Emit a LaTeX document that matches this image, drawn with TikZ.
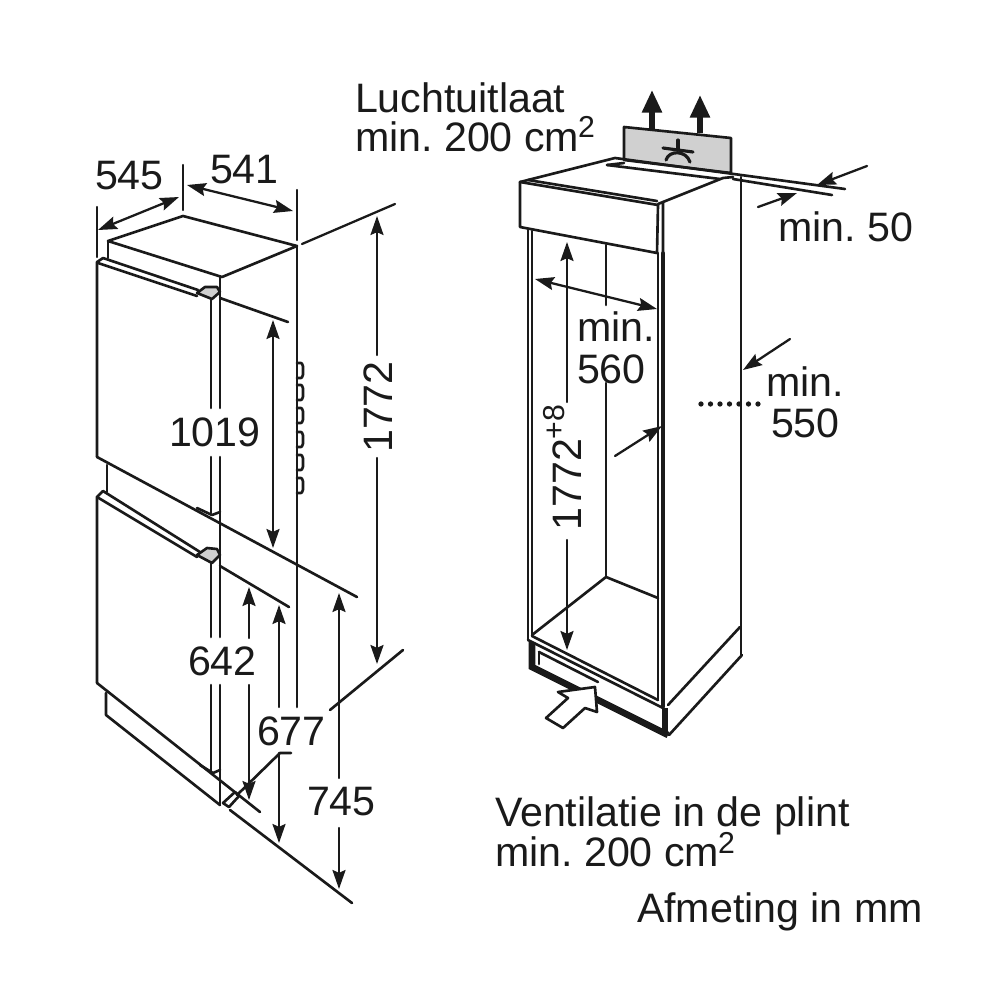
\documentclass[tikz,border=0pt]{standalone}
\usepackage{fontspec}
\setmainfont{Liberation Sans}
\usetikzlibrary{arrows.meta}
\definecolor{ink}{HTML}{1A1A1A}
\definecolor{panel}{HTML}{D0D0D0}
\newcommand{\supr}[2][3.7pt]{\kern-0.3pt\smash{\raisebox{#1}{\fontsize{8.6pt}{9pt}\selectfont #2}}}
\tikzset{
  ln/.style={draw=ink,line width=0.75pt,line cap=round,line join=round},
  dim/.style={ln,line width=0.65pt},
  arr/.style={dim,-{Stealth[length=5.4pt,width=3.7pt,inset=0.8pt]}},
  darr/.style={dim,{Stealth[length=5.4pt,width=3.7pt,inset=0.8pt]}-{Stealth[length=5.4pt,width=3.7pt,inset=0.8pt]}},
  thick ln/.style={draw=ink,line width=1.9pt,line join=miter},
  flow/.style={draw=ink,line width=1.5pt,-{Triangle[length=6.4pt,width=5.4pt]}},
  lab/.style={inner sep=0pt,outer sep=0pt,text=ink,font=\fontsize{11.7pt}{14pt}\selectfont\frenchspacing},
  lw/.style={lab,anchor=base west},
  lv/.style={lab,rotate=90,anchor=center},
}
\begin{document}
\begin{tikzpicture}[x=0.01cm,y=-0.01cm]
\useasboundingbox (0,0) rectangle (1000,1000);
% ---------- left appliance ----------
\draw[ln] (108,241) -- (183,216) -- (297,246) -- (222,277) -- cycle;
\draw[ln] (108,241) -- (108,258);
\draw[ln] (297,246) -- (297,707);
% door 1
\draw[ln] (103,258) -- (198,290);
\draw[ln] (103,258) -- (97,262) -- (97,457);
\draw[ln] (98,263) -- (197,296);
\draw[ln] (220,298) -- (288,322);
\draw[ln,fill=panel] (197,293) -- (205,287) -- (217,287) -- (220,292) -- (212,299) -- cycle;
\draw[ln] (211,300) -- (211,408) (211,457) -- (211,513);
\draw[ln] (220,277) -- (220,408) (220,457) -- (220,637) (220,685) -- (220,805);
\draw[ln] (97,457) -- (357,597);
\draw[ln] (197,508) -- (212,515) -- (220,512);
\draw[ln] (107,465) -- (107,492);
% door 2
\draw[ln] (103,491) -- (200,552);
\draw[ln] (103,491) -- (97,497) -- (97,683);
\draw[ln] (97,497) -- (197,557);
\draw[ln] (220,566) -- (289,607);
\draw[ln,fill=panel] (197,555) -- (207,548) -- (217,549) -- (220,555) -- (212,563) -- cycle;
\draw[ln] (211,563) -- (211,637) (211,685) -- (211,772);
\draw[ln] (97,683) -- (260,812);
\draw[ln] (200,765) -- (213,773) -- (220,770);
\draw[ln] (106,693) -- (106,715) -- (220,805);
\draw[ln] (230,810) -- (352,903);
% foot
\draw[ln] (223,803) -- (235,792) -- (239,796) -- (229,807) -- cycle;
\draw[ln] (237,795) -- (280,753) -- (291,753);
\draw[ln] (330,710) -- (403,650);
% knobs
\foreach \a/\b in {363/378,385/400,408/423,432/447,455/470,478/493}
  \draw[ln] (297,\a) -- (301,\a) to[out=0,in=-90] (303,\a+3) -- (303,\b-3) to[out=90,in=0] (301,\b) -- (297,\b);
% extension lines
\draw[dim] (97,207) -- (97,257);
\draw[dim] (183,165) -- (183,210);
\draw[dim] (297,190) -- (297,240);
\draw[dim] (302,244) -- (395,204);
% dimensions
\draw[darr] (98,230) -- (179,197);
\draw[darr] (187,185) -- (293,211);
\draw[arr] (377,355) -- (377,216);
\draw[arr] (377,458) -- (377,664);
\draw[darr] (273,320) -- (273,548);
\draw[arr] (249,638) -- (249,587);
\draw[arr] (249,685) -- (249,800);
\draw[arr] (279,707) -- (279,605);
\draw[arr] (279,753) -- (279,843);
\draw[arr] (339,778) -- (339,593);
\draw[arr] (339,828) -- (339,889);
% labels left
\node[lw] (l545) at (95,189) {545};
\node[lw] (l541) at (210,183) {541};
\node[lw] (l1019) at (169,446) {1019};
\node[lw] (l642) at (188,675) {642};
\node[lw] (l677) at (257,745) {677};
\node[lw] (l745) at (307,815) {745};
\node[lv] (l1772) at (378,407) {1772};
% ---------- right niche ----------
% air box
\draw[ln,fill=panel] (624,160) -- (624,127) -- (731,138) -- (731,173) -- cycle;
\draw[flow] (652,129) -- (652,90);
\draw[flow] (700,133) -- (700,95);
\draw[ln,line width=0.9pt] (663,148) -- (693,152);
\draw[ln,line width=0.9pt] (678,140) -- (678,150);
\draw[ln,line width=0.9pt] (666,160) .. controls (669,150) and (686,150) .. (690,162);
% top
\draw[ln] (520,182) -- (615,158) -- (845,189);
\draw[ln] (607,165) -- (624,163);
\draw[ln] (607,165) -- (720,179);
\draw[ln] (663,202) -- (723,178) -- (733,177);
\draw[ln] (733,179) -- (832,195);
\draw[ln] (520,182) -- (658,205);
\draw[ln] (528,180) -- (657,201);
\draw[ln] (520,182) -- (520,227) -- (657,253) -- (658,205);
\draw[ln] (658,204) -- (663,202) -- (663,253);
\draw[ln] (741,177) -- (741,655);
% walls
\draw[ln] (528,230) -- (528,640);
\draw[ln] (532,231) -- (532,636);
\draw[ln] (658,253) -- (658,700);
\draw[ln,line width=1pt] (663,253) -- (663,707);
\draw[ln] (606,245) -- (606,305) (606,383) -- (606,577);
\draw[ln] (532,635) -- (606,577) -- (658,598);
\draw[ln] (532,636) -- (658,700);
\draw[ln] (528,640) -- (663,708);
% plinth
\draw[ln] (740,627) -- (668,705);
\draw[ln] (742,655) -- (669,735);
\draw[thick ln] (532,642) -- (532,667) -- (668,735);
\draw[thick ln] (665,708) -- (665,734);
\draw[ln] (539,652) -- (539,664);
\draw[ln] (539,652) -- (598,682);
\draw[ln,fill=white] (546,718) -- (563,728) -- (585,708) -- (597,712) -- (595,687) -- (558,692) -- (568,698) -- cycle;
% dimensions right
\draw[arr] (867,166) -- (817,185);
\draw[arr] (758,207) -- (797,193);
\draw[arr] (567,402) -- (567,242);
\draw[arr] (567,540) -- (567,650);
\draw[darr] (535,279) -- (657,309);
\draw[arr] (790,339) -- (743,370);
\draw[arr] (615,456) -- (662,426);
\draw[ink,line width=1.5pt,line cap=round,dash pattern=on 0pt off 2.7pt] (701,404) -- (760,404);
% labels right
\node[lw] (t1) at (355,112) {Luchtuitlaat};
\node[lw] (t2) at (355,151) {min. 200 cm\supr{2}};
\node[lw] (t3) at (778,241) {min. 50};
\node[lw] (t4) at (577,341) {min.};
\node[lw] (t5) at (577,383) {560};
\node[lw] (t6) at (766,396) {min.};
\node[lw] (t7) at (771,437) {550};
\node[lw] (t8) at (495,826) {Ventilatie in de plint};
\node[lw] (t9) at (495,866) {min. 200 cm\supr{2}};
\node[lw] (t10) at (637,922) {Afmeting in mm};
\node[lab,rotate=90,anchor=base west] (t11) at (581,530) {1772\supr[4.8pt]{+8}};
\end{tikzpicture}
\end{document}
